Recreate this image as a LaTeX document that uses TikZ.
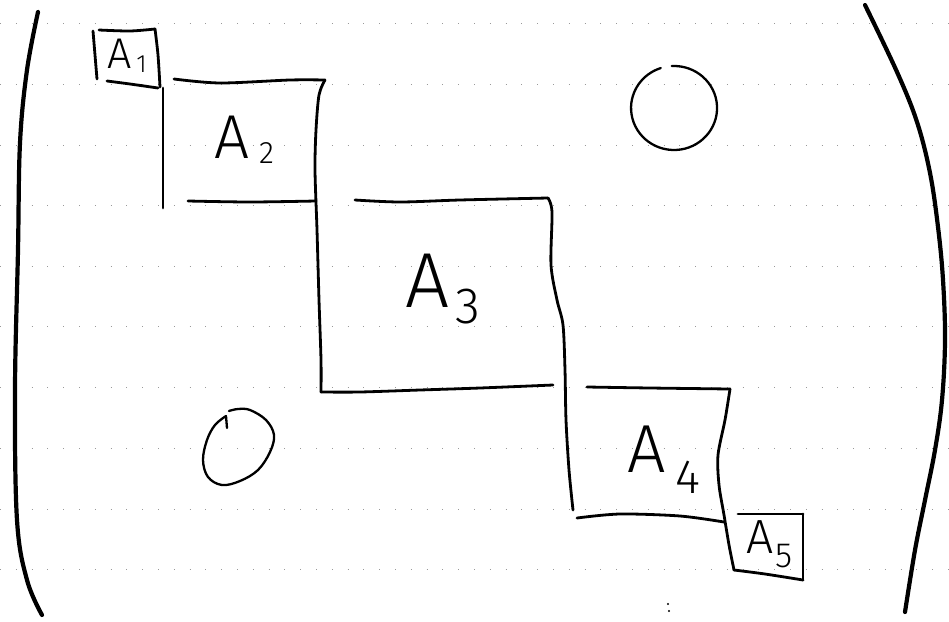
\documentclass[tikz,border=0pt]{standalone}
\usepackage{fontspec}
\newfontfamily\hand{Fira Sans}[UprightFont=* Light]
\newcommand\hlab[5]{{\hand\fontsize{#1}{#1}\selectfont A}\kern#3pt\raisebox{-#4pt}{\hand\fontsize{#2}{#2}\selectfont #5}}
\begin{document}
\begin{tikzpicture}[x=1pt,y=-1pt,
  pen/.style={line width=2.8pt, line cap=round, line join=round},
  paren/.style={line width=4.2pt, line cap=round},
  ring/.style={line width=2.3pt, line cap=round},
  gridline/.style={black!40, line width=0.8pt, dash pattern=on 0.8pt off 15pt},
  lbl/.style={anchor=base west, inner sep=0pt, outer sep=0pt}]
\useasboundingbox (0,0) rectangle (949,621);
\fill[white] (0,0) rectangle (949,621);
% faint dotted ruling of the paper
\foreach \yy in {23,84,145,205,266,326,387,448,509,569}
  \draw[gridline] (0,\yy) -- (949,\yy);
% parentheses
\draw[paren] plot[smooth, tension=0.6] coordinates {(38,12) (27,70) (20,143) (18,250) (15,390) (17,520) (27,580) (42,615)};
\draw[paren] plot[smooth, tension=0.6] coordinates {(865,5) (897,72) (917,122) (930,173) (938,227) (943,280) (945,340) (942,400) (935,450) (925,500) (915,550) (905,612)};
% A1
\draw[pen] (93,31) -- (97,79);
\draw[pen] plot[smooth] coordinates {(99,30) (130,31) (155,29)};
\draw[pen] plot[smooth] coordinates {(155,29) (158,55) (160,87)};
\draw[pen] plot[smooth] coordinates {(107,81) (130,84) (158,88)};
% A2
\draw[pen] (163,88) -- (163,208);
\draw[pen] plot[smooth] coordinates {(174,79) (220,83) (290,80) (325,80)};
\draw[pen] plot[smooth, tension=0.5] coordinates {(325,80) (319,95) (316,130) (315,170) (317,230) (319,300) (321,360) (321,392)};
\draw[pen] plot[smooth] coordinates {(321,392) (360,392) (420,390) (480,388) (553,385)};
\draw[pen] plot[smooth] coordinates {(188,201) (250,202) (316,201)};
% A3
\draw[pen] plot[smooth] coordinates {(355,200) (400,202) (460,200) (548,198)};
\draw[pen] plot[smooth, tension=0.5] coordinates {(548,198) (552,212) (551,265) (557,300) (563,325) (565,370) (566,420) (569,470) (573,510)};
% A4
\draw[pen] plot[smooth] coordinates {(587,387) (650,388) (730,389)};
\draw[pen] plot[smooth, tension=0.5] coordinates {(730,389) (725,420) (718,455) (719,485) (724,515) (729,545) (734,570)};
\draw[pen] plot[smooth] coordinates {(734,570) (765,574) (803,580)};
\draw[pen] plot[smooth] coordinates {(577,518) (620,514) (680,516) (724,522)};
% A5
\draw[pen] (738,514) -- (803,514);
\draw[pen] (803,514) -- (803,580);
% zeros
\draw[ring] (674,108) ++(267:42) arc[start angle=267, end angle=612, x radius=43, y radius=42];
\draw[ring] (227,428) -- (226,416);
\draw[ring] plot[smooth, tension=0.6] coordinates {(226,416) (215,425) (207,440) (203,460) (208,477) (222,485) (240,481) (258,470) (270,452) (274,435) (266,420) (250,410) (238,409) (229,411)};
% stray mark
\fill (668,604) circle (1.1);
\fill (669,611) circle (1.1);
% labels
\node[lbl] (a1) at (107,68) {\hlab{43}{25}{5}{4}{1}};
\node[lbl] (a2) at (214,158) {\hlab{62}{31}{10}{5}{2}};
\node[lbl] (a3) at (405,307) {\hlab{78}{51}{6}{16}{3}};
\node[lbl] (a4) at (627,472) {\hlab{68}{48}{10}{21}{4}};
\node[lbl] (a5) at (746,553) {\hlab{48}{35}{2}{14}{5}};
\end{tikzpicture}
\end{document}
